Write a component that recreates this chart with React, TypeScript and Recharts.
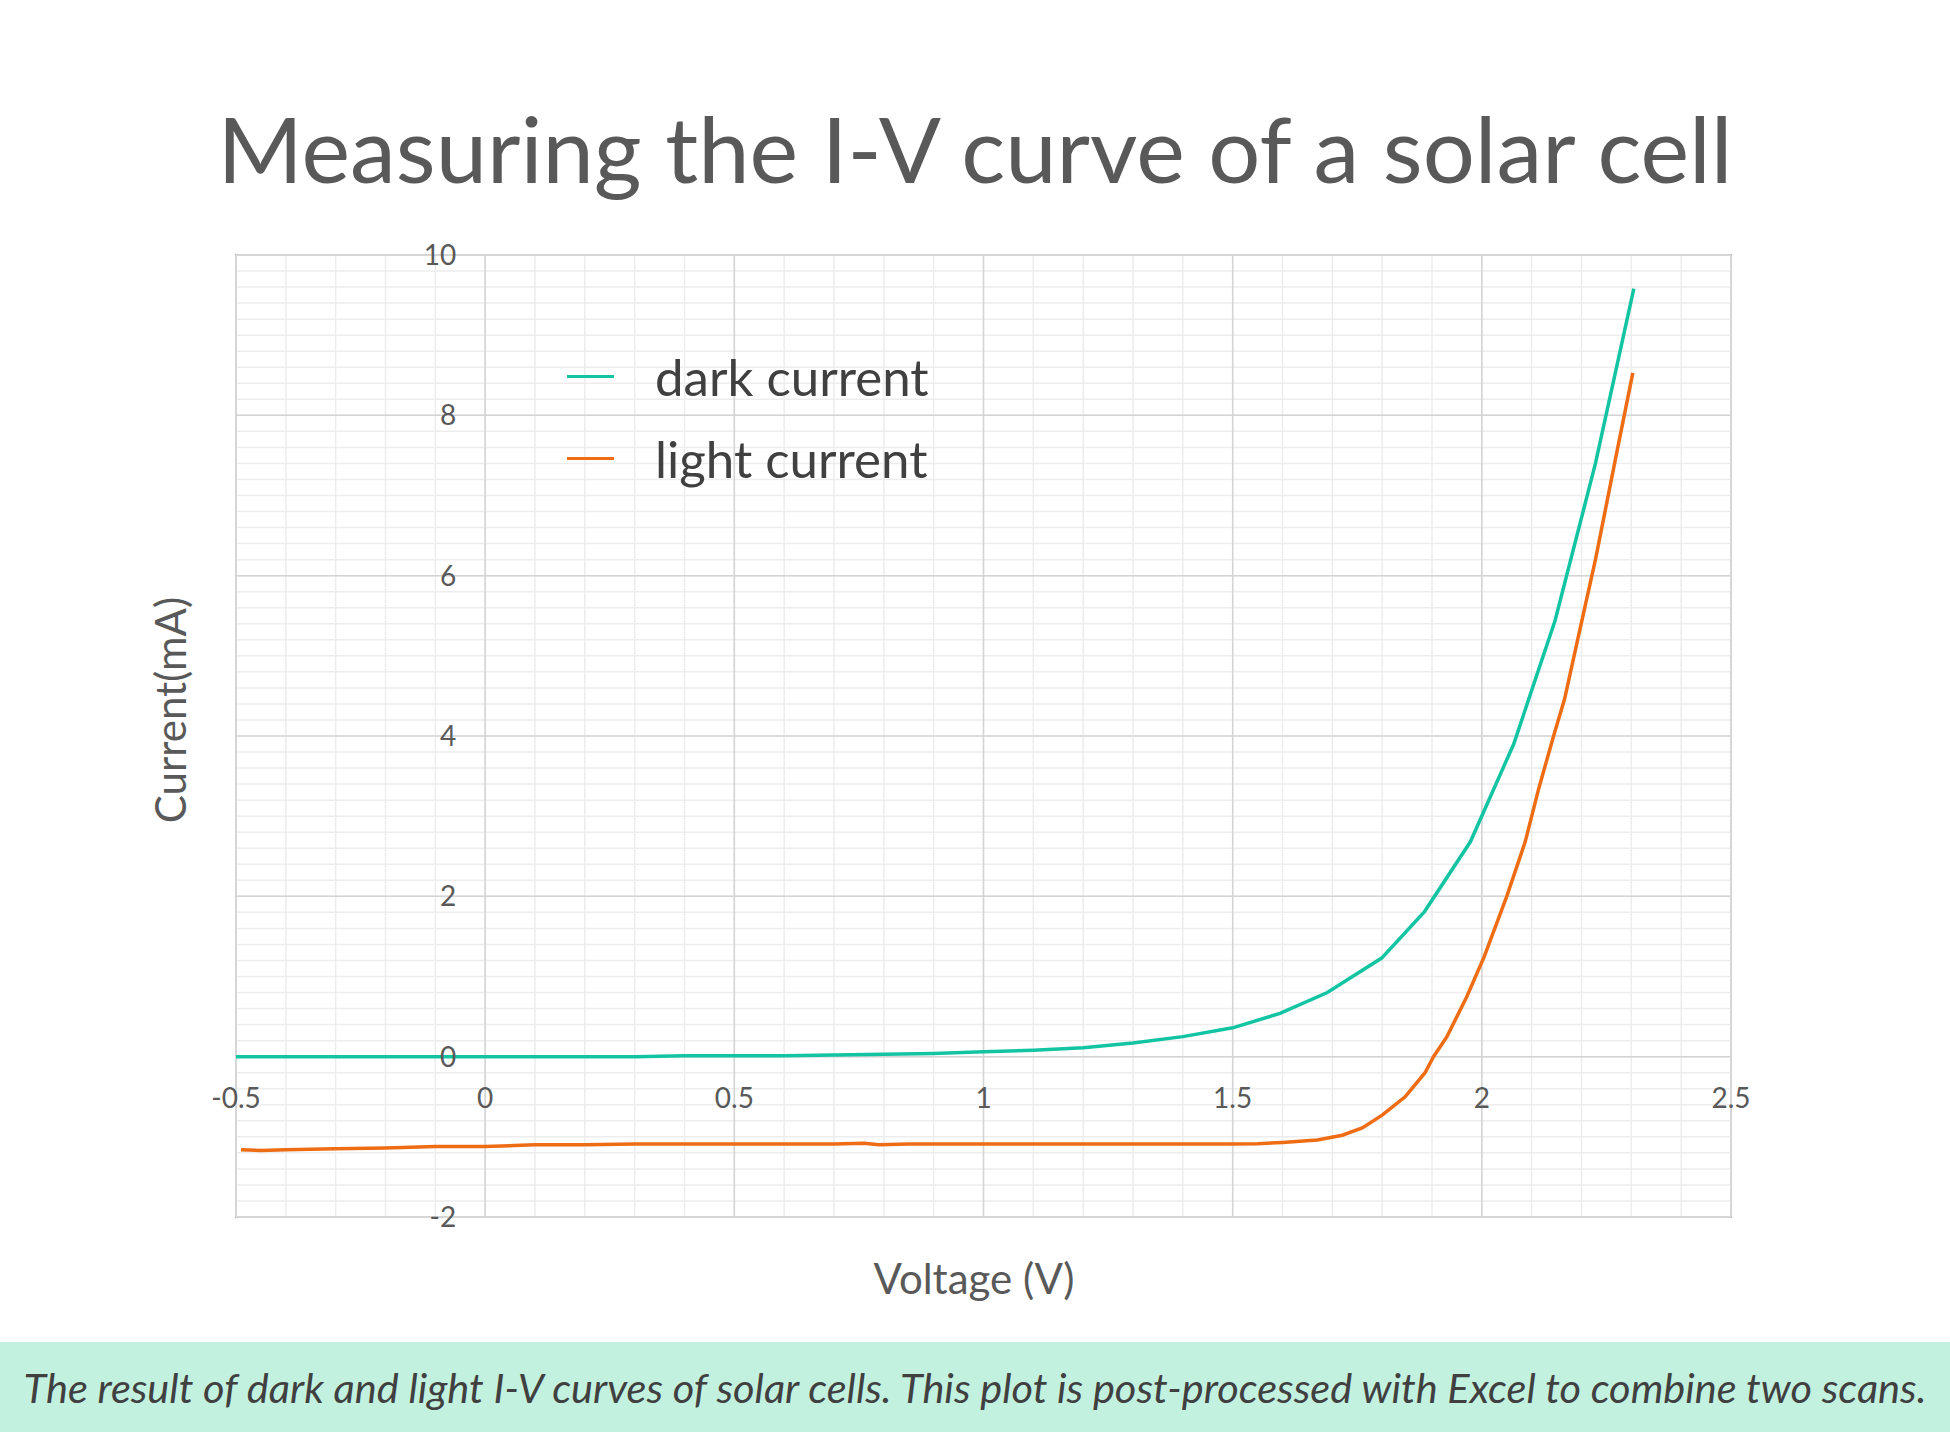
import React from "react";
import {
  LineChart,
  Line,
  XAxis,
  YAxis,
  ReferenceLine,
  ReferenceDot,
  ReferenceArea,
  Legend,
} from "recharts";

// axis ticks
const X_TICKS = [-0.5, 0, 0.5, 1, 1.5, 2, 2.5];
const X_TICK_LABELS = ["-0.5", "0", "0.5", "1", "1.5", "2", "2.5"];
const Y_TICKS = [-2, 0, 2, 4, 6, 8, 10];
const Y_TICK_LABELS = ["-2", "0", "2", "4", "6", "8", "10"];

// minor grid (Excel style): every 0.1 V and every 0.2 mA
const X_MINOR = Array.from({ length: 31 }, (_, k) => Math.round((-0.5 + k * 0.1) * 10) / 10);
const Y_MINOR = Array.from({ length: 61 }, (_, k) => Math.round((-2 + k * 0.2) * 10) / 10);

// dark scan
const DARK_V = [
  -0.5, -0.4, -0.3, -0.2, -0.1, 0, 0.1, 0.2, 0.3, 0.4, 0.5, 0.6, 0.7, 0.8, 0.9,
  1.0, 1.1, 1.2, 1.3, 1.4, 1.5, 1.595, 1.69, 1.799, 1.885, 1.977, 2.064, 2.147,
  2.228, 2.305,
];
const DARK_I = [
  0, 0, 0, 0, 0, 0, 0, 0, 0, 0.01, 0.01, 0.01, 0.02, 0.03, 0.04,
  0.06, 0.08, 0.11, 0.17, 0.25, 0.36, 0.54, 0.8, 1.23, 1.81, 2.68, 3.9, 5.44,
  7.4, 9.58,
];

// light scan
const LIGHT_V = [
  -0.49, -0.45, -0.4, -0.3, -0.2, -0.1, 0, 0.1, 0.2, 0.3, 0.4, 0.5, 0.6, 0.7,
  0.76, 0.79, 0.85, 0.9, 1.0, 1.1, 1.2, 1.3, 1.4, 1.5, 1.55, 1.6, 1.67, 1.72,
  1.76, 1.8, 1.846, 1.886, 1.903, 1.93, 1.97, 2.005, 2.05, 2.087, 2.114, 2.144,
  2.166, 2.194, 2.228, 2.268, 2.303,
];
const LIGHT_I = [
  -1.16, -1.17, -1.16, -1.15, -1.14, -1.12, -1.12, -1.1, -1.1, -1.09, -1.09,
  -1.09, -1.09, -1.09, -1.08, -1.1, -1.09, -1.09, -1.09, -1.09, -1.09, -1.09,
  -1.09, -1.09, -1.085, -1.07, -1.04, -0.98, -0.89, -0.73, -0.5, -0.2, 0, 0.25,
  0.75, 1.25, 2.0, 2.68, 3.34, 4.0, 4.46, 5.25, 6.2, 7.45, 8.53,
];

const COLORS = {
  dark: "#13c4a3",
  light: "#ee6c14",
};

const FONT = "Lato, 'Open Sans', sans-serif";
const TEXT = "#595959";

function IVLegend({ payload }: { payload?: Array<{ value: string; color: string }> }) {
  if (!payload) return null;
  return (
    <div>
      {payload.map((p) => (
        <div key={p.value} style={{ display: "flex", alignItems: "center", height: 82 }}>
          <span style={{ display: "inline-block", width: 47, height: 3, background: p.color, marginRight: 41 }} />
          <span style={{ fontFamily: FONT, fontSize: 51, color: "#404040", lineHeight: 1 }}>{p.value}</span>
        </div>
      ))}
    </div>
  );
}

export default function App() {
  const dark = DARK_V.map((v, k) => ({ v, i: DARK_I[k] }));
  const light = LIGHT_V.map((v, k) => ({ v, i: LIGHT_I[k] }));

  return (
    <div
      style={{
        position: "absolute",
        left: 0,
        top: 0,
        width: 1950,
        height: 1432,
        background: "#fff",
        overflow: "hidden",
        fontFamily: FONT,
      }}
    >
      <div
        style={{
          position: "absolute",
          left: 0,
          width: 1950,
          top: 93,
          textAlign: "center",
          fontSize: 92,
          lineHeight: 1.2,
          color: TEXT,
          whiteSpace: "nowrap",
        }}
      >
        Measuring the I-V curve of a solar cell
      </div>

      <div style={{ position: "absolute", left: 0, top: 0 }}>
        <LineChart
          width={1950}
          height={1342}
          margin={{ top: 255, right: 219, bottom: 125, left: 236 }}
        >
          <XAxis
            dataKey="v"
            type="number"
            domain={[-0.5, 2.5]}
            ticks={X_TICKS}
            allowDataOverflow
            height={0}
            tick={false}
            tickLine={false}
            axisLine={false}
          />
          <YAxis
            type="number"
            domain={[-2, 10]}
            ticks={Y_TICKS}
            allowDataOverflow
            width={0}
            tick={false}
            tickLine={false}
            axisLine={false}
          />
          {X_MINOR.map((t) => (
            <ReferenceLine key={"xm" + t} x={t} stroke="#ededed" strokeWidth={1.5} />
          ))}
          {Y_MINOR.map((t) => (
            <ReferenceLine key={"ym" + t} y={t} stroke="#ededed" strokeWidth={1.5} />
          ))}
          {X_TICKS.map((t) => (
            <ReferenceLine key={"xM" + t} x={t} stroke="#d4d4d4" strokeWidth={1.5} />
          ))}
          {Y_TICKS.map((t) => (
            <ReferenceLine key={"yM" + t} y={t} stroke="#d4d4d4" strokeWidth={1.5} />
          ))}
          <ReferenceArea
            x1={-0.5}
            x2={2.5}
            y1={-2}
            y2={10}
            fill="none"
            fillOpacity={0}
            stroke="#a8a8a8"
            strokeWidth={2}
          />
          {Y_TICKS.map((t, k) => (
            <ReferenceDot
              key={"y" + t}
              x={0}
              y={t}
              r={0}
              fill="none"
              stroke="none"
              label={{
                value: Y_TICK_LABELS[k],
                position: "left",
                offset: 29,
                fill: TEXT,
                fontSize: 28,
                fontFamily: FONT,
              }}
            />
          ))}
          {X_TICKS.map((t, k) => (
            <ReferenceDot
              key={"x" + t}
              x={t}
              y={0}
              r={0}
              fill="none"
              stroke="none"
              label={{
                value: X_TICK_LABELS[k],
                position: "bottom",
                offset: 31,
                fill: TEXT,
                fontSize: 28,
                fontFamily: FONT,
              }}
            />
          ))}
          <Line
            data={dark}
            dataKey="i"
            name="dark current"
            type="linear"
            stroke={COLORS.dark}
            strokeWidth={3.5}
            dot={false}
            isAnimationActive={false}
          />
          <Line
            data={light}
            dataKey="i"
            name="light current"
            type="linear"
            stroke={COLORS.light}
            strokeWidth={3.5}
            dot={false}
            isAnimationActive={false}
          />
          <Legend
            layout="vertical"
            align="center"
            verticalAlign="middle"
            content={<IVLegend />}
            wrapperStyle={{ top: 335, left: 567, width: "auto" }}
          />
        </LineChart>
      </div>

      <div
        style={{
          position: "absolute",
          left: 170,
          top: 710,
          transform: "translate(-50%, -50%) rotate(-90deg)",
          fontSize: 42,
          color: TEXT,
          whiteSpace: "nowrap",
        }}
      >
        Current(mA)
      </div>
      <div
        style={{
          position: "absolute",
          left: 974,
          top: 1278,
          transform: "translate(-50%, -50%)",
          fontSize: 42,
          color: TEXT,
          whiteSpace: "nowrap",
        }}
      >
        Voltage (V)
      </div>

      <div
        style={{
          position: "absolute",
          left: 0,
          top: 1342,
          width: 1950,
          height: 90,
          background: "#c3f1e0",
          display: "flex",
          alignItems: "center",
          justifyContent: "center",
          fontStyle: "italic",
          fontSize: 41.5,
          color: "#404040",
          whiteSpace: "nowrap",
        }}
      >
        The result of dark and light I-V curves of solar cells. This plot is post-processed with Excel to combine two scans.
      </div>
    </div>
  );
}
